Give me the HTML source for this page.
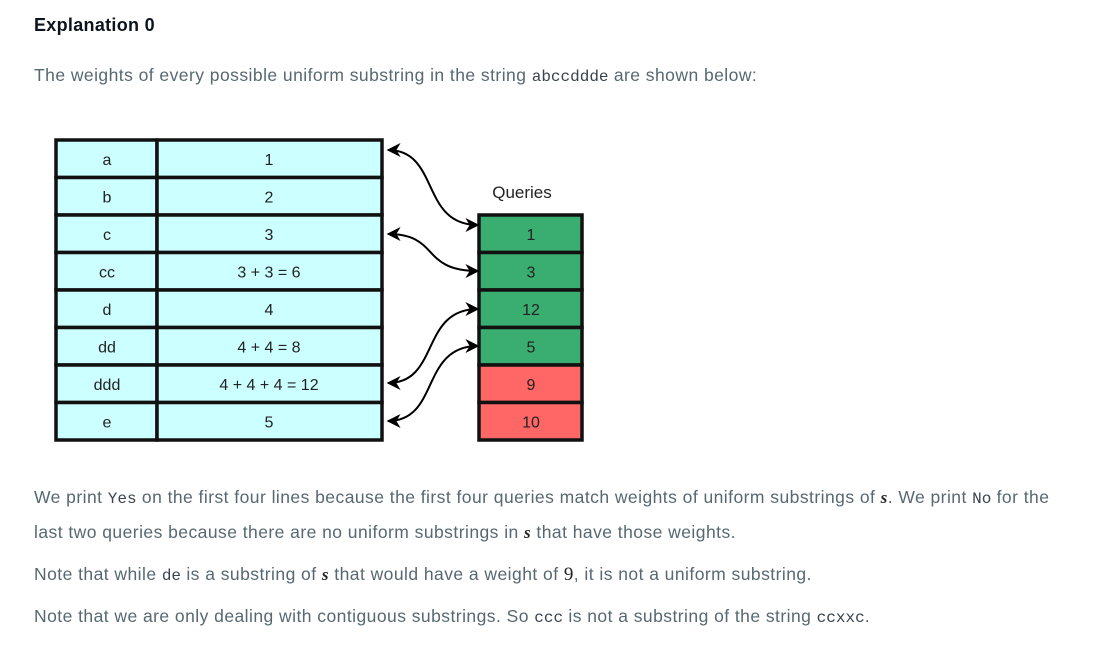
<!DOCTYPE html>
<html><head><meta charset="utf-8"><style>
body{margin:0;width:1107px;height:645px;background:#fff;font-family:"Liberation Sans",sans-serif;color:#576871;position:relative;overflow:hidden}
.t{position:absolute;left:34px;font-size:17.5px;letter-spacing:0.45px;white-space:nowrap;line-height:20px}
code{font-family:"Liberation Mono",monospace;font-size:16px;letter-spacing:0;color:#39424e}
i.m{font-family:"Liberation Serif",serif;font-weight:bold;color:#222;font-size:17px}
</style></head><body>
<div class="t" style="top:15px;font-weight:bold;color:#0e141e;font-size:18px;letter-spacing:0.3px">Explanation 0</div>
<div class="t" style="top:65px">The weights of every possible uniform substring in the string <code>abccddde</code> are shown below:</div>
<svg width="1107" height="645" style="position:absolute;left:0;top:0" font-family="Liberation Sans,sans-serif" font-size="16">
<defs><marker id="ah" viewBox="0 0 10 10" refX="9" refY="5" markerWidth="7" markerHeight="7" orient="auto-start-reverse"><path d="M0,0L10,5L0,10L3,5Z" fill="#000"/></marker></defs>
<g id="rows"></g>
<text x="522" y="198" text-anchor="middle" fill="#222" font-size="17">Queries</text>
<g id="q"></g>
<g fill="none" stroke="#000" stroke-width="2">
<path d="M388,150 C440,150 420,225 478,225" marker-start="url(#ah)" marker-end="url(#ah)"/>
<path d="M388,234 C440,234 420,271 478,271" marker-start="url(#ah)" marker-end="url(#ah)"/>
<path d="M388,383 C440,383 420,309 478,309" marker-start="url(#ah)" marker-end="url(#ah)"/>
<path d="M388,421 C440,421 420,346 478,346" marker-start="url(#ah)" marker-end="url(#ah)"/>
</g>
</svg>
<div class="t" style="top:487px">We print <code>Yes</code> on the first four lines because the first four queries match weights of uniform substrings of <i class="m">s</i>. We print <code>No</code> for the</div>
<div class="t" style="top:522px">last two queries because there are no uniform substrings in <i class="m">s</i> that have those weights.</div>
<div class="t" style="top:564px">Note that while <code>de</code> is a substring of <i class="m">s</i> that would have a weight of <span style="font-family:'Liberation Serif',serif;color:#222;font-size:19px">9</span>, it is not a uniform substring.</div>
<div class="t" style="top:606px">Note that we are only dealing with contiguous substrings. So <code>ccc</code> is not a substring of the string <code>ccxxc</code>.</div>
<script>
const subs=["a","b","c","cc","d","dd","ddd","e"];
const weights=["1","2","3","3 + 3 = 6","4","4 + 4 = 8","4 + 4 + 4 = 12","5"];
const queries=["1","3","12","5","9","10"];
const valid=[true,true,true,true,false,false];
const NS="http://www.w3.org/2000/svg";
const top0=140,rh=37.5;
function mk(t,a,p){const e=document.createElementNS(NS,t);for(const k in a)e.setAttribute(k,a[k]);p.appendChild(e);return e;}
const R=document.getElementById('rows');
subs.forEach((s,i)=>{const y=top0+i*rh;
 const r1=mk('rect',{x:56,y:y,width:101,height:rh,fill:'#ccffff',stroke:'#111','stroke-width':3.5},R);
 
 
 const r2=mk('rect',{x:157,y:y,width:225,height:rh,fill:'#ccffff',stroke:'#111','stroke-width':3.5},R);
 
 
 const t1=mk('text',{x:107,y:y+rh/2+6,'text-anchor':'middle',fill:'#222'},R);t1.textContent=s;
 
 
 const t2=mk('text',{x:269,y:y+rh/2+6,'text-anchor':'middle',fill:'#222'},R);t2.textContent=weights[i];
 
 
});
const Q=document.getElementById('q');const qt=215;
queries.forEach((v,i)=>{const y=qt+i*rh;
 const r=mk('rect',{x:479,y:y,width:103,height:rh,fill:valid[i]?'#3aae70':'#ff6666',stroke:'#111','stroke-width':3.5},Q);
 
 
 const t=mk('text',{x:531,y:y+rh/2+6,'text-anchor':'middle',fill:'#222'},Q);t.textContent=v;
 
 
});
</script>
</body></html>
